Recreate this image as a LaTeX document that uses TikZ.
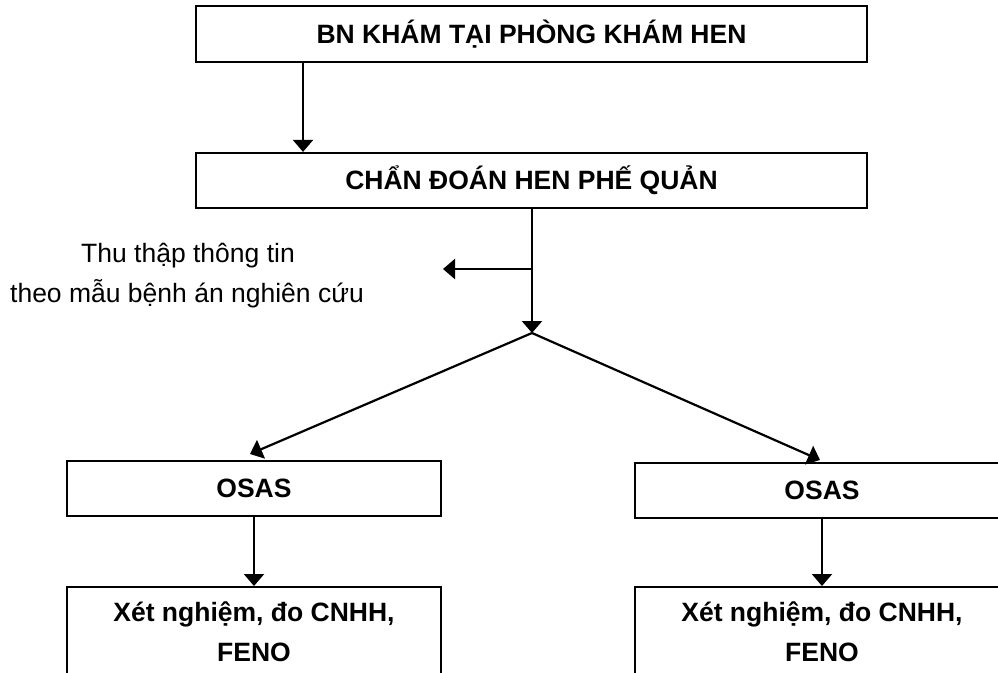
\documentclass[tikz,border=0pt]{standalone}
\usepackage{fontspec}
\setmainfont{Liberation Sans}
\usetikzlibrary{arrows.meta}
\begin{document}
\begin{tikzpicture}[x=1pt,y=-1pt,
  box/.style={draw, line width=2.2pt, inner sep=0pt, font=\bfseries\fontsize{26.5}{40}\selectfont, align=center},
  lbl/.style={inner sep=0pt, font=\fontsize{26.5}{40}\selectfont},
  arr/.style={line width=2.2pt, -{Triangle[length=12pt,width=20pt]}},
  ln/.style={line width=2.2pt}]
\useasboundingbox (0,0) rectangle (998,672);
\node[box, minimum width=671pt, minimum height=56pt] (top) at (531.5,34) {BN KHÁM TẠI PHÒNG KHÁM HEN};
\node[box, minimum width=671pt, minimum height=55pt] (mid) at (531.5,180.5) {CHẨN ĐOÁN HEN PHẾ QUẢN};
\node[box, minimum width=374pt, minimum height=55pt] (osl) at (254,488.5) {OSAS};
\node[box, minimum width=374pt, minimum height=55pt] (osr) at (822,490.5) {OSAS};
\node[box, anchor=north] (xnl) at (254,586) {\parbox[c][140pt][t]{374pt}{\centering\rule{0pt}{34pt}Xét nghiệm, đo CNHH,\\FENO}};
\node[box, anchor=north] (xnr) at (822,586) {\parbox[c][140pt][t]{374pt}{\centering\rule{0pt}{34pt}Xét nghiệm, đo CNHH,\\FENO}};
\node[lbl, anchor=base] (t1) at (188,262) {Thu thập thông tin};
\node[lbl, anchor=base] (t2) at (187,302) {theo mẫu bệnh án nghiên cứu};
\coordinate (xa) at (303,0);
\coordinate (ap) at (532,333);
\coordinate (br) at (532,269);
\coordinate (brt) at (443,269);
\coordinate (lt) at (250,454);
\coordinate (rt) at (820,460);
\draw[arr] (top.south -| xa) -- (mid.north -| xa);
\draw[arr] (mid.south -| ap) -- (ap);
\draw[arr] (br) -- (brt);
\draw[arr] (ap) -- (lt);
\draw[arr] (ap) -- (rt);
\draw[arr] (osl.south) -- (xnl.north);
\draw[arr] (osr.south) -- (xnr.north);
\end{tikzpicture}
\end{document}
